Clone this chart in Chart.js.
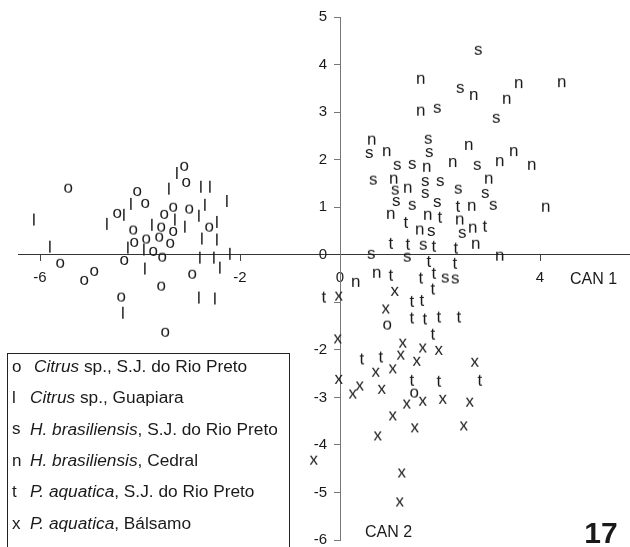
<!DOCTYPE html>
<html>
<head>
<meta charset="utf-8">
<title>CAN 1 x CAN 2</title>
<script src="https://cdn.jsdelivr.net/npm/chart.js@4/dist/chart.umd.min.js"></script>
<style>
  html, body { margin: 0; padding: 0; background: #fff; }
</style>
</head>
<body>
<canvas id="canChart" width="630" height="547"></canvas>
<script>
// canonical scores (CAN 1, CAN 2) per population
const citrusRioPreto = [
  [-3.12, 1.87], [-3.08, 1.53], [-5.44, 1.41], [-4.06, 1.34], [-3.90, 1.09], [-3.34, 1.01],
  [-3.02, 0.97], [-4.46, 0.88], [-3.52, 0.86], [-4.14, 0.53], [-3.58, 0.59], [-3.34, 0.50],
  [-2.62, 0.59], [-4.12, 0.27], [-3.88, 0.34], [-3.62, 0.38], [-3.40, 0.25], [-3.74, 0.08],
  [-3.56, -0.04], [-4.32, -0.11], [-5.60, -0.17], [-4.92, -0.34], [-5.12, -0.53], [-2.96, -0.40],
  [-3.58, -0.65], [-4.38, -0.88], [-3.50, -1.62], [0.94, -1.47], [1.48, -2.90]
];
const citrusGuapiara = [
  [-3.26, 1.72], [-3.42, 1.39], [-2.78, 1.43], [-2.60, 1.43], [-2.26, 1.13], [-4.18, 1.07],
  [-2.70, 1.05], [-4.32, 0.84], [-6.12, 0.74], [-4.66, 0.65], [-3.30, 0.74], [-2.82, 0.82],
  [-3.76, 0.63], [-3.10, 0.59], [-2.46, 0.69], [-5.80, 0.17], [-2.76, 0.34], [-2.46, 0.32],
  [-4.24, 0.15], [-3.92, 0.11], [-2.80, -0.06], [-2.52, -0.06], [-2.20, 0.02], [-2.40, -0.27],
  [-3.90, -0.29], [-4.34, -1.22], [-2.82, -0.90], [-2.50, -0.92]
];
const heveaRioPreto = [
  [2.76, 4.31], [2.40, 3.51], [1.94, 3.09], [3.12, 2.88], [0.58, 2.14], [1.76, 2.44],
  [1.78, 2.16], [1.14, 1.89], [1.44, 1.91], [2.74, 1.89], [0.66, 1.58], [1.10, 1.37],
  [1.70, 1.55], [2.00, 1.55], [1.70, 1.30], [2.36, 1.39], [2.90, 1.30], [1.12, 1.13],
  [1.44, 1.05], [1.94, 1.11], [3.06, 1.05], [1.82, 0.50], [2.44, 0.46], [1.66, 0.21],
  [0.62, 0.02], [1.34, -0.04], [2.10, -0.48], [2.30, -0.50]
];
const heveaCedral = [
  [1.62, 3.70], [2.68, 3.36], [3.58, 3.61], [3.34, 3.28], [4.44, 3.63], [1.62, 3.03],
  [0.64, 2.42], [0.94, 2.18], [2.58, 2.31], [3.48, 2.18], [1.74, 1.85], [2.26, 1.95],
  [3.20, 1.97], [3.84, 1.89], [1.08, 1.60], [2.98, 1.60], [1.36, 1.41], [2.64, 1.03],
  [4.12, 1.01], [1.02, 0.86], [1.76, 0.84], [2.40, 0.74], [1.60, 0.53], [2.66, 0.57],
  [2.72, 0.23], [3.20, -0.02], [0.32, -0.57], [0.74, -0.38]
];
const pachiraRioPreto = [
  [2.36, 1.03], [1.32, 0.69], [2.00, 0.80], [2.90, 0.61], [1.02, 0.25], [1.36, 0.23],
  [1.88, 0.19], [2.32, 0.15], [1.78, -0.13], [2.30, -0.17], [1.02, -0.42], [1.62, -0.48],
  [1.88, -0.38], [-0.32, -0.88], [1.86, -0.71], [1.44, -0.97], [1.64, -0.95], [1.44, -1.32],
  [1.70, -1.34], [1.98, -1.30], [2.38, -1.30], [1.86, -1.66], [0.44, -2.18], [0.82, -2.14],
  [1.44, -2.63], [1.98, -2.65], [2.80, -2.63]
];
const pachiraBalsamo = [
  [-0.02, -0.86], [1.10, -0.76], [0.92, -1.13], [-0.04, -1.76], [1.26, -1.85], [1.66, -1.95],
  [1.98, -2.00], [1.22, -2.10], [1.54, -2.23], [2.70, -2.25], [0.72, -2.46], [1.06, -2.39],
  [-0.02, -2.61], [0.26, -2.92], [0.40, -2.75], [0.84, -2.82], [1.66, -3.07], [1.34, -3.13],
  [2.06, -3.03], [2.60, -3.09], [1.06, -3.38], [1.50, -3.63], [2.48, -3.59], [0.76, -3.80],
  [-0.52, -4.31], [1.24, -4.58], [1.20, -5.19]
];

const groupMarks = ['o', 'l', 's', 'n', 't', 'x'];
const groupSpecies = ['Citrus', 'Citrus', 'H. brasiliensis', 'H. brasiliensis', 'P. aquatica', 'P. aquatica'];
const groupPlaces = [' sp., S.J. do Rio Preto', ' sp., Guapiara', ', S.J. do Rio Preto', ', Cedral', ', S.J. do Rio Preto', ', Bálsamo'];
const groupData = [citrusRioPreto, citrusGuapiara, heveaRioPreto, heveaCedral, pachiraRioPreto, pachiraBalsamo];

const xTicks = [-6, -2, 0, 4];
const yTicks = [5, 4, 3, 2, 1, 0, -1, -2, -3, -4, -5, -6];
const hiddenYLabels = [-1];

const FONT = '"Liberation Sans", Arial, sans-serif';
const INK = '#1a1a1a';
const Y_LABEL_GAP = 13;

// a y axis crossing at x = 0 keeps its labels flush on the line; push them left a bit
// (done here rather than with ticks.padding, which would also shrink the plot vertically)
class CrossLinearScale extends Chart.LinearScale {
  drawLabels(area) {
    this.ctx.save();
    this.ctx.translate(-Y_LABEL_GAP, 0);
    super.drawLabels(area);
    this.ctx.restore();
  }
}
CrossLinearScale.id = 'crossLinear';
CrossLinearScale.defaults = Chart.LinearScale.defaults;
Chart.register(CrossLinearScale);

// letter used as the point marker, centred on its own glyph box
function glyph(ch) {
  const c = document.createElement('canvas');
  c.width = 24; c.height = 24;
  const g = c.getContext('2d');
  g.font = '17px ' + FONT;
  g.fillStyle = INK;
  const m = g.measureText(ch);
  const x = 12 - (m.actualBoundingBoxRight - m.actualBoundingBoxLeft) / 2;
  const y = 12 + (m.actualBoundingBoxAscent - m.actualBoundingBoxDescent) / 2;
  g.fillText(ch, x, y);
  return c;
}

// axis names, plate number and the boxed key
const extras = {
  id: 'extras',
  afterDraw(chart) {
    const ctx = chart.ctx;
    ctx.save();
    ctx.fillStyle = INK;
    ctx.textBaseline = 'middle';
    ctx.textAlign = 'left';
    ctx.font = '16px ' + FONT;
    ctx.fillText('CAN 1', 570, 280);
    ctx.fillText('CAN 2', 365, 533);
    ctx.font = 'bold 30px ' + FONT;
    ctx.textAlign = 'center';
    ctx.fillText('17', 601, 535);

    ctx.fillStyle = '#fff';
    ctx.fillRect(7, 353, 282, 200);
    ctx.strokeStyle = '#222';
    ctx.lineWidth = 1;
    ctx.strokeRect(7.5, 353.5, 282, 200);

    ctx.textAlign = 'left';
    ctx.fillStyle = INK;
    groupMarks.forEach((mk, i) => {
      const y = 367 + i * 31.4;
      ctx.font = '17px ' + FONT;
      ctx.fillText(mk, 12, y);
      ctx.font = 'italic 17.3px ' + FONT;
      const x0 = i === 0 ? 34 : 30;
      ctx.fillText(groupSpecies[i], x0, y);
      const w = ctx.measureText(groupSpecies[i]).width;
      ctx.font = '17.3px ' + FONT;
      ctx.fillText(groupPlaces[i], x0 + w, y);
    });
    ctx.restore();
  }
};

new Chart(document.getElementById('canChart'), {
  type: 'scatter',
  data: {
    datasets: groupData.map((pts, i) => ({
      label: groupSpecies[i] + groupPlaces[i],
      data: pts.map(p => ({ x: p[0], y: p[1] })),
      pointStyle: glyph(groupMarks[i]),
      pointRadius: 8,
      showLine: false
    }))
  },
  options: {
    responsive: false,
    animation: false,
    events: [],
    layout: { autoPadding: false, padding: { left: 18, right: 0, top: 17, bottom: 7 } },
    plugins: { legend: { display: false }, tooltip: { enabled: false } },
    scales: {
      x: {
        type: 'linear',
        position: { y: 0 },
        min: -6.44,
        max: 5.8,
        afterBuildTicks: s => { s.ticks = xTicks.map(v => ({ value: v })); },
        ticks: { color: INK, font: { family: FONT, size: 15 }, padding: 8 },
        grid: { drawOnChartArea: false, drawTicks: true, tickLength: 6, color: '#444' },
        border: { display: true, color: '#333', width: 1 }
      },
      y: {
        type: 'crossLinear',
        position: { x: 0 },
        min: -6,
        max: 5,
        afterBuildTicks: s => { s.ticks = yTicks.map(v => ({ value: v })); },
        ticks: {
          color: INK,
          font: { family: FONT, size: 15, lineHeight: 0.9 },
          padding: 0,
          callback: v => hiddenYLabels.includes(v) ? '' : v
        },
        grid: { drawOnChartArea: false, drawTicks: true, tickLength: 6, color: '#777' },
        border: { display: true, color: '#777', width: 1 }
      }
    }
  },
  plugins: [extras]
});
</script>
</body>
</html>
